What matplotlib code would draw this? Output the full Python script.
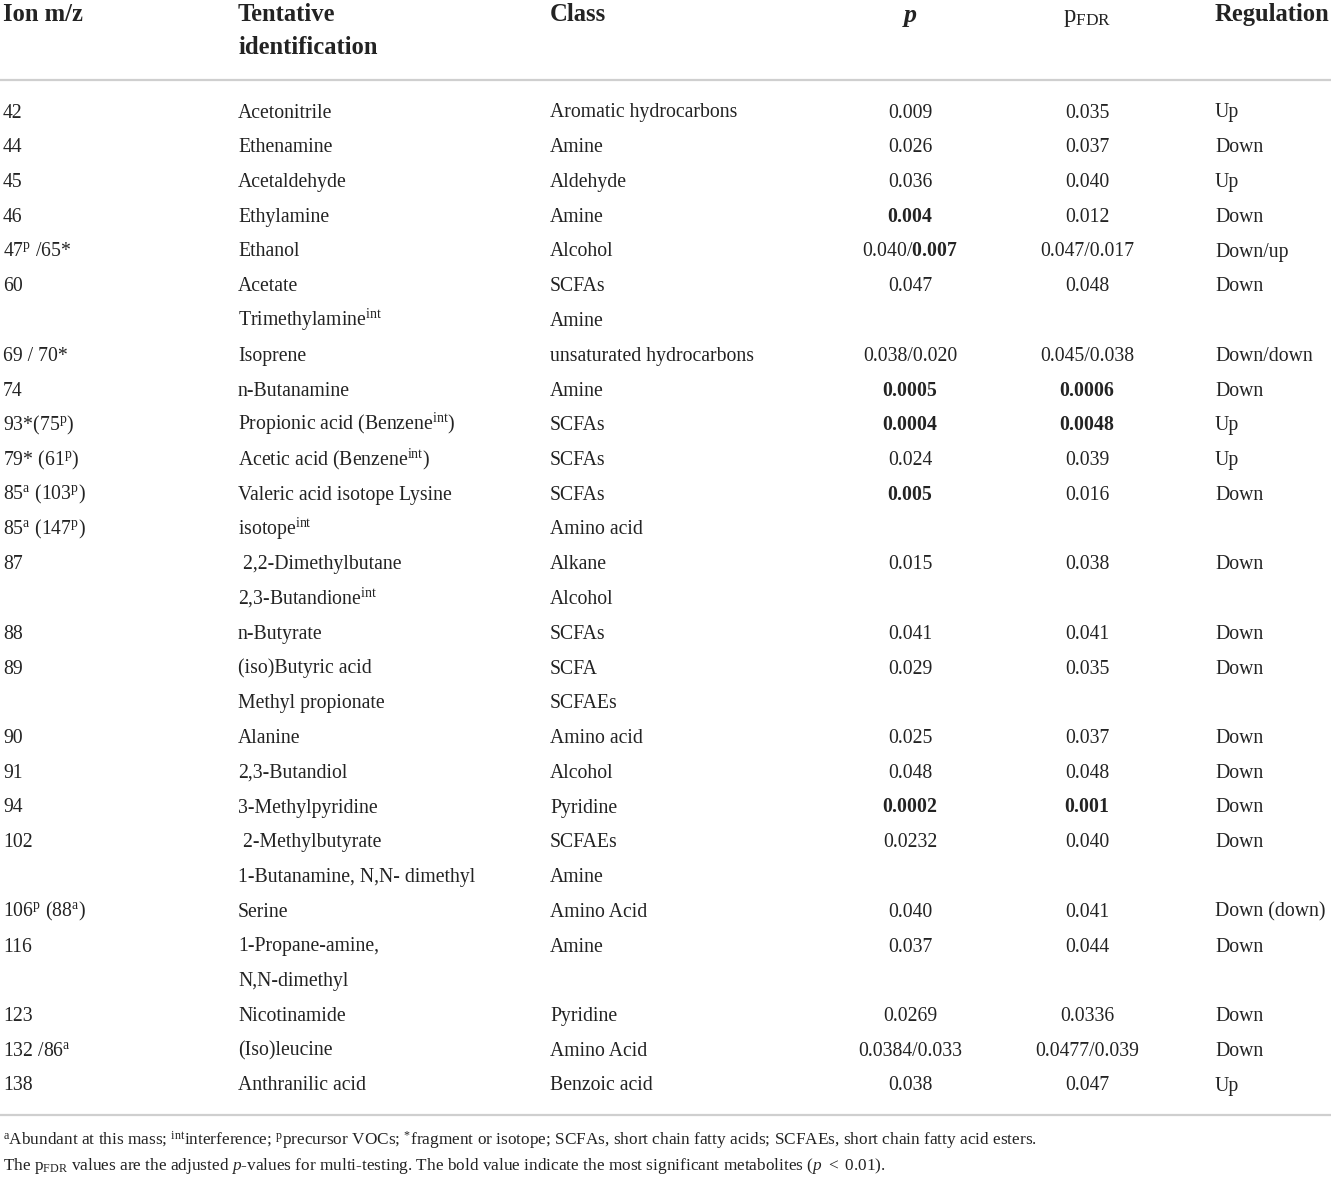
import matplotlib
matplotlib.use("Agg")
import matplotlib.pyplot as plt

plt.rcParams["font.family"] = ["Liberation Serif", "DejaVu Serif"]
plt.rcParams["mathtext.fontset"] = "custom"
plt.rcParams["mathtext.rm"] = "Liberation Serif"
plt.rcParams["mathtext.it"] = "Liberation Serif:italic"
plt.rcParams["mathtext.bf"] = "Liberation Serif:bold"

# =========================================================
# TABLE DATA
# =========================================================
HEADERS = ["Ion m/z", "Tentative\nidentification", "Class", "p", "p$_{\\mathrm{FDR}}$", "Regulation"]

ions = ["42", "44", "45", "46", "47$^{\\mathrm{p}}$ /65*", "60", "", "69 / 70*", "74",
        "93*(75$^{\\mathrm{p}}$)", "79* (61$^{\\mathrm{p}}$)", "85$^{\\mathrm{a}}$ (103$^{\\mathrm{p}}$)",
        "85$^{\\mathrm{a}}$ (147$^{\\mathrm{p}}$)", "87", "", "88", "89", "", "90", "91", "94", "102", "",
        "106$^{\\mathrm{p}}$ (88$^{\\mathrm{a}}$)", "116", "", "123", "132 /86$^{\\mathrm{a}}$", "138"]

identification = ["Acetonitrile", "Ethenamine", "Acetaldehyde", "Ethylamine", "Ethanol", "Acetate",
                  "Trimethylamine$^{\\mathrm{int}}$", "Isoprene", "n-Butanamine",
                  "Propionic acid (Benzene$^{\\mathrm{int}}$)", "Acetic acid (Benzene$^{\\mathrm{int}}$)",
                  "Valeric acid isotope Lysine", "isotope$^{\\mathrm{int}}$", " 2,2-Dimethylbutane",
                  "2,3-Butandione$^{\\mathrm{int}}$", "n-Butyrate", "(iso)Butyric acid", "Methyl propionate",
                  "Alanine", "2,3-Butandiol", "3-Methylpyridine", " 2-Methylbutyrate",
                  "1-Butanamine, N,N- dimethyl", "Serine", "1-Propane-amine,", "N,N-dimethyl",
                  "Nicotinamide", "(Iso)leucine", "Anthranilic acid"]

classes = ["Aromatic hydrocarbons", "Amine", "Aldehyde", "Amine", "Alcohol", "SCFAs", "Amine",
           "unsaturated hydrocarbons", "Amine", "SCFAs", "SCFAs", "SCFAs", "Amino acid", "Alkane",
           "Alcohol", "SCFAs", "SCFA", "SCFAEs", "Amino acid", "Alcohol", "Pyridine", "SCFAEs", "Amine",
           "Amino Acid", "Amine", "", "Pyridine", "Amino Acid", "Benzoic acid"]

p_values = ["0.009", "0.026", "0.036", "$\\mathbf{0.004}$", "0.040/$\\mathbf{0.007}$", "0.047", "",
            "0.038/0.020", "$\\mathbf{0.0005}$", "$\\mathbf{0.0004}$", "0.024", "$\\mathbf{0.005}$", "",
            "0.015", "", "0.041", "0.029", "", "0.025", "0.048", "$\\mathbf{0.0002}$", "0.0232", "",
            "0.040", "0.037", "", "0.0269", "0.0384/0.033", "0.038"]

p_fdr = ["0.035", "0.037", "0.040", "0.012", "0.047/0.017", "0.048", "", "0.045/0.038",
         "$\\mathbf{0.0006}$", "$\\mathbf{0.0048}$", "0.039", "0.016", "", "0.038", "", "0.041", "0.035",
         "", "0.037", "0.048", "$\\mathbf{0.001}$", "0.040", "", "0.041", "0.044", "", "0.0336",
         "0.0477/0.039", "0.047"]

regulation = ["Up", "Down", "Up", "Down", "Down/up", "Down", "", "Down/down", "Down", "Up", "Up", "Down",
              "", "Down", "", "Down", "Down", "", "Down", "Down", "Down", "Down", "", "Down (down)", "Down",
              "", "Down", "Down", "Up"]

FOOTNOTES = [
    "$^{\\mathrm{a}}$Abundant at this mass; $^{\\mathrm{int}}$interference; $^{\\mathrm{p}}$precursor VOCs; "
    "$^{*}$fragment or isotope; SCFAs, short chain fatty acids; SCFAEs, short chain fatty acid esters.",
    "The p$_{\\mathrm{FDR}}$ values are the adjusted $p$-values for multi-testing. "
    "The bold value indicate the most significant metabolites ($p$ $<$ 0.01).",
]

# =========================================================
# LAYOUT (pixel coordinates)
# =========================================================
W, H = 1331, 1177
COL_X = [3, 238, 550, 910, 1087, 1215]
COL_HA = ["left", "left", "left", "center", "center", "left"]
ROW0 = 117.5
ROW_STEP = 34.75
BODY_FS = 14.2
HEAD_FS = 17.7
RULE_COLOR = "#cfcfcf"
TEXT_COLOR = "#232323"

fig = plt.figure(figsize=(W / 100, H / 100), dpi=100)
ax = fig.add_axes([0, 0, 1, 1])
ax.set_xlim(0, W)
ax.set_ylim(H, 0)
ax.axis("off")

# header
for i, (hx, ha, label) in enumerate(zip(COL_X, COL_HA, HEADERS)):
    if i == 3:
        ax.text(hx, 22, label, ha=ha, va="baseline", fontsize=HEAD_FS + 1,
                fontweight="bold", fontstyle="italic", color=TEXT_COLOR)
    elif i == 4:
        ax.text(hx, 22, label, ha=ha, va="baseline", fontsize=HEAD_FS, color=TEXT_COLOR)
    else:
        for k, part in enumerate(label.split("\n")):
            ax.text(hx, 21 + k * 32.5, part, ha=ha, va="baseline", fontsize=HEAD_FS,
                    fontweight="bold", color=TEXT_COLOR)

ax.plot([0, W], [80, 80], color=RULE_COLOR, lw=1.6, solid_capstyle="butt")

columns = [ions, identification, classes, p_values, p_fdr, regulation]
for c, col in enumerate(columns):
    for r, val in enumerate(col):
        if not val:
            continue
        ax.text(COL_X[c], ROW0 + r * ROW_STEP, val, ha=COL_HA[c], va="baseline",
                fontsize=BODY_FS, color=TEXT_COLOR)

ax.plot([0, W], [1115, 1115], color=RULE_COLOR, lw=1.6, solid_capstyle="butt")

for k, line in enumerate(FOOTNOTES):
    ax.text(3, 1145 + k * 25, line, ha="left", va="baseline", fontsize=12.4, color=TEXT_COLOR)

fig.savefig("out.png", dpi=100)
